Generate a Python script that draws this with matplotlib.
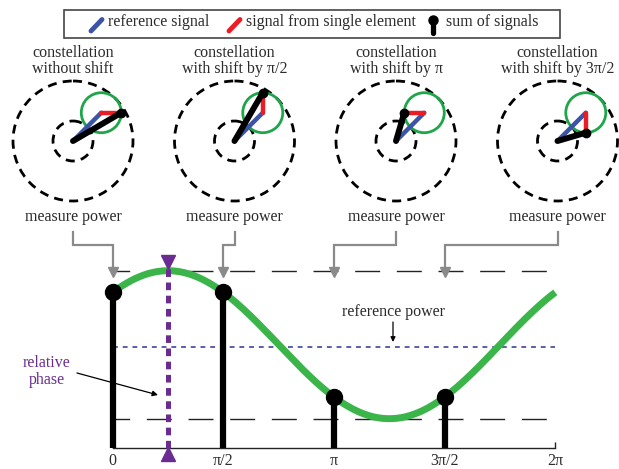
import numpy as np
import matplotlib
matplotlib.use("Agg")
import matplotlib.pyplot as plt
from matplotlib.patches import Circle, Rectangle

plt.rcParams['font.family'] = ['Liberation Serif', 'DejaVu Serif']
plt.rcParams['lines.scale_dashes'] = False

# ---------------- data ----------------
shifts = [0.0, np.pi / 2, np.pi, 3 * np.pi / 2]
title_line1 = ['constellation'] * 4
title_line2 = ['without shift', 'with shift by π/2', 'with shift by π', 'with shift by 3π/2']
tick_positions = [0.0, np.pi / 2, np.pi, 3 * np.pi / 2, 2 * np.pi]
tick_labels = ['0', 'π/2', 'π', '3π/2', '2π']

ref_amp = 40.0            # reference phasor length (diagram units)
ref_phase = np.pi / 4     # reference phasor angle
elem_amp = 20.0           # single-element phasor length

power_mean = 1.03         # power curve (relative units)
power_amp = 0.74
peak_phase = np.pi / 4    # relative phase (power maximum)
ref_power = 1.01

legend_labels = ['reference signal', 'signal from single element', 'sum of signals']

# ---------------- style ----------------
BLUE = '#3b54a5'
RED = '#ec1c24'
GREEN_C = '#1fa54a'
GREEN = '#3bb54a'
PURPLE = '#6a2c91'
GRAY = '#8a8a8a'
TXT = '#2b2b2b'
FS = 11.5

W, H = 619, 469
fig = plt.figure(figsize=(W / 100, H / 100), dpi=100)

# bottom chart axes (pixel layout)
x0, x1 = 112.7, 555.3
ybase, ytop = 447.7, 250.0
ax = fig.add_axes([x0 / W, (H - ybase) / H, (x1 - x0) / W, (ybase - ytop) / H])
ax.set_xlim(0, 2 * np.pi)
ax.set_ylim(0, (ybase - ytop) / 100)
ax.patch.set_alpha(0)
for s in ['top', 'right', 'left']:
    ax.spines[s].set_visible(False)
ax.spines['bottom'].set_linewidth(1.0)
ax.spines['bottom'].set_color('#222222')
ax.set_yticks([])
ax.set_xticks(tick_positions)
ax.set_xticklabels(tick_labels, fontsize=FS, color=TXT)
ax.tick_params(axis='x', direction='in', length=4, width=1, pad=4, color='#222222')

theta = np.linspace(0, 2 * np.pi, 400)
curve = power_mean + power_amp * np.cos(theta - peak_phase)
pmax = power_mean + power_amp
pmin = power_mean - power_amp
ax.hlines([pmax, pmin], 0, 2 * np.pi, colors='#222222', linewidth=1.0,
          linestyles=[(6, (18, 12))], zorder=1)
ax.hlines(ref_power, 0, 2 * np.pi, colors='#2e3192', linewidth=1.1,
          linestyles=[(0, (3.5, 3.5))], zorder=1)
ax.plot(theta, curve, color=GREEN, lw=5, zorder=2, solid_capstyle='butt', clip_on=False)

stem_vals = power_mean + power_amp * np.cos(np.array(shifts) - peak_phase)
stems = ax.vlines(shifts, 0, stem_vals, colors='black', linewidth=4.5, zorder=3)
stems.set_clip_on(False)
ax.plot(shifts, stem_vals, 'o', color='black', ms=11.5, zorder=4, clip_on=False)

# relative phase marker
ax.plot([peak_phase, peak_phase], [-0.003, 1.80], color=PURPLE, lw=3.6,
        linestyle=(0, (5.5, 4)), zorder=5, clip_on=False)
ax.plot([peak_phase], [1.86], marker='v', color=PURPLE, ms=10, clip_on=False, zorder=6)
ax.plot([peak_phase], [-0.065], marker='^', color=PURPLE, ms=10, clip_on=False, zorder=6)

# ---------------- overlay (pixel coords) ----------------
ov = fig.add_axes([0, 0, 1, 1])
ov.set_xlim(0, W)
ov.set_ylim(H, 0)
ov.axis('off')
ov.patch.set_alpha(0)

panel_x = [73.0, 234.5, 396.0, 557.5]
panel_y = 141.0
tick_px = [x0 + (x1 - x0) * s / (2 * np.pi) for s in shifts]

for i, s in enumerate(shifts):
    cx, cy = panel_x[i], panel_y
    ov.text(cx, 53, title_line1[i], ha='center', va='center', fontsize=FS, color=TXT)
    ov.text(cx, 69, title_line2[i], ha='center', va='center', fontsize=FS, color=TXT)
    for rad in (ref_amp + elem_amp, ref_amp - elem_amp):
        ov.add_patch(Circle((cx, cy), rad, fill=False, ec='black', lw=2.0,
                            linestyle=(0, (6.5, 4.5))))
    rx, ry = cx + ref_amp * np.cos(ref_phase), cy - ref_amp * np.sin(ref_phase)
    sx, sy = rx + elem_amp * np.cos(s), ry - elem_amp * np.sin(s)
    ov.add_patch(Circle((rx, ry), elem_amp, fill=False, ec=GREEN_C, lw=2.0))
    ov.plot([cx, rx], [cy, ry], color=BLUE, lw=3.2, solid_capstyle='round')
    ov.plot([rx, sx], [ry, sy], color=RED, lw=3.2, solid_capstyle='round')
    ov.plot([cx, sx], [cy, sy], color='black', lw=4.3, solid_capstyle='round')
    ov.plot([sx], [sy], 'o', color='black', ms=6)
    # measure power label + connector
    ov.text(cx, 217, 'measure power', ha='center', va='center', fontsize=FS, color=TXT)
    tx = tick_px[i]
    ov.plot([cx, cx, tx, tx], [232, 245, 245, 271], color=GRAY, lw=1.6,
            solid_joinstyle='miter')
    ov.plot([tx], [272.5], marker='v', color=GRAY, ms=7, mec=GRAY)

# legend box
ov.add_patch(Rectangle((64.3, 9.7), 560 - 64.3, 28, fill=False, ec='#444444', lw=1.2))
ov.plot([91, 102], [31, 19.5], color=BLUE, lw=3.5, solid_capstyle='round')
ov.text(108, 22.5, legend_labels[0], ha='left', va='center', fontsize=FS, color=TXT)
ov.plot([229, 240], [31, 19.5], color=RED, lw=3.5, solid_capstyle='round')
ov.text(246.5, 22.5, legend_labels[1], ha='left', va='center', fontsize=FS, color=TXT)
ov.plot([433.3, 433.3], [33, 22], color='black', lw=3.8, solid_capstyle='round')
ov.plot([433.3], [20], 'o', color='black', ms=6.5)
ov.text(446.5, 22.5, legend_labels[2], ha='left', va='center', fontsize=FS, color=TXT)

# annotations
ov.text(393, 312, 'reference power', ha='center', va='center', fontsize=FS, color=TXT)
ov.annotate('', xy=(393, 342), xytext=(393, 322),
            arrowprops=dict(arrowstyle='-|>', color='black', lw=0.9,
                            mutation_scale=7, shrinkA=0, shrinkB=0))
ov.text(47, 363, 'relative', ha='center', va='center', fontsize=FS, color=PURPLE)
ov.text(47, 380, 'phase', ha='center', va='center', fontsize=FS, color=PURPLE)
ov.annotate('', xy=(158, 395), xytext=(77, 373),
            arrowprops=dict(arrowstyle='-|>', color='black', lw=0.9,
                            mutation_scale=8, shrinkA=0, shrinkB=0))

fig.savefig('out.png', dpi=100)
